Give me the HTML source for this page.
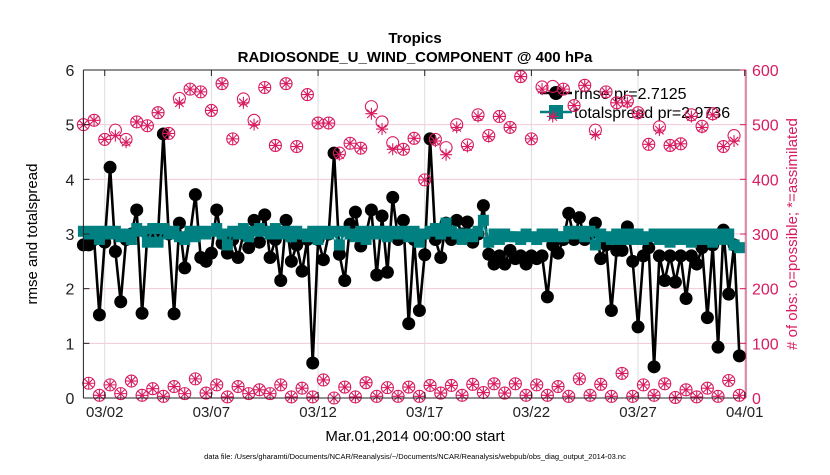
<!DOCTYPE html>
<html><head><meta charset="utf-8">
<style>
body{margin:0;background:#fff;font-family:"Liberation Sans",sans-serif}
svg text{font-family:"Liberation Sans",sans-serif}
</style></head>
<body>
<svg id="chart" width="830" height="470" xmlns="http://www.w3.org/2000/svg">
<rect width="830" height="470" fill="#fff"/>
<g id="grid"></g>
<g id="series"></g>
<g id="legend"></g>
<g id="obs"></g>
<g id="axes"></g>
<text x="415" y="43" text-anchor="middle" font-size="15" font-weight="bold">Tropics</text>
<text x="415" y="62" text-anchor="middle" font-size="15" font-weight="bold">RADIOSONDE_U_WIND_COMPONENT @ 400 hPa</text>
<text x="415" y="441" text-anchor="middle" font-size="15">Mar.01,2014 00:00:00 start</text>
<text x="415" y="459" text-anchor="middle" font-size="7.5">data file: /Users/gharamti/Documents/NCAR/Reanalysis/~/Documents/NCAR/Reanalysis/webpub/obs_diag_output_2014-03.nc</text>
<text transform="translate(37,234) rotate(-90)" text-anchor="middle" font-size="15">rmse and totalspread</text>
<text transform="translate(797,234) rotate(-90)" text-anchor="middle" font-size="15" fill="#d81b60"># of obs: o=possible; *=assimilated</text>
</svg>
<script>
const xTickDays=[1,6,11,16,21,26,31];
const xTickLabels=["03/02","03/07","03/12","03/17","03/22","03/27","04/01"];
const yTicks=[0,1,2,3,4,5,6];
const y2Ticks=[0,100,200,300,400,500,600];
const rmse=[2.8,2.8,2.9,1.52,2.85,4.22,2.68,1.76,2.9,3.0,3.44,1.55,3.0,2.9,3.0,4.83,3.0,1.54,3.2,2.38,3.0,3.72,2.57,2.5,2.65,3.44,2.83,2.65,2.9,2.57,3.0,2.75,3.25,2.85,3.35,2.57,2.9,2.15,3.25,2.5,2.8,2.32,2.9,0.64,2.9,2.53,3.0,4.48,2.63,2.15,3.18,3.4,2.78,3.0,3.44,2.25,3.33,2.3,3.67,2.9,3.25,1.36,2.9,1.6,2.62,4.74,2.9,2.57,3.2,2.9,3.25,3.0,3.22,2.85,3.0,3.52,2.63,2.45,2.6,2.45,2.7,2.55,2.6,2.45,2.6,2.55,2.6,1.85,2.8,2.65,2.9,3.38,2.9,3.3,2.9,3.0,3.2,2.55,2.8,1.6,2.7,2.7,3.13,2.5,1.3,2.6,2.75,0.57,2.6,2.15,2.6,2.12,2.6,1.82,2.6,2.45,2.75,1.47,2.8,0.93,3.07,1.9,2.8,0.77];
const totalspread=[3.05,3.0,3.05,2.9,3.05,3.0,3.05,2.95,3.0,2.9,3.1,3.05,2.85,3.1,2.85,3.1,3.0,3.05,2.95,2.9,3.05,2.95,3.05,3.0,3.05,3.1,3.0,2.8,3.05,3.0,3.1,2.95,3.05,3.1,3.05,3.0,3.1,3.0,3.05,2.95,3.05,3.0,2.95,3.05,2.9,3.05,3.0,3.05,2.8,3.05,3.0,2.95,3.05,2.9,3.05,3.0,3.05,2.95,3.05,3.0,3.05,2.95,3.05,2.85,3.0,3.05,3.1,3.0,3.2,3.05,3.0,2.9,3.0,2.95,3.05,3.25,2.85,3.0,2.9,3.0,2.95,2.95,2.9,3.0,2.95,2.9,3.0,2.95,3.0,2.95,2.95,3.05,3.0,3.05,2.95,3.05,2.8,3.0,2.95,2.9,3.0,2.9,3.0,2.9,3.0,2.9,2.95,3.0,2.9,3.0,2.85,3.0,2.9,3.0,2.85,3.0,2.9,3.0,2.85,3.0,2.9,3.0,2.8,2.75];
const obsPossible=[500,27,508,5,473,24,490,8,473,31,505,5,498,17,522,3,484,21,548,8,565,35,560,9,526,24,575,2,474,21,547,8,508,15,568,8,462,24,575,2,460,18,555,2,503,33,503,0,448,20,466,2,457,28,533,3,505,19,467,3,455,20,475,3,399,23,473,9,458,23,500,5,463,25,518,10,480,26,515,9,495,26,588,5,474,24,569,5,570,21,565,3,535,35,572,5,490,25,560,3,540,45,543,3,522,24,464,5,496,26,462,1,465,15,518,2,497,18,520,3,460,32,480,5];
const obsAssim=[500,27,508,5,473,24,480,8,468,31,505,5,498,17,522,3,484,21,540,8,565,35,560,9,526,24,575,2,474,21,540,8,500,15,568,8,462,24,575,2,460,18,555,2,503,33,503,0,445,20,466,2,457,28,520,3,492,19,455,3,455,20,475,3,399,23,470,9,445,23,495,5,460,25,515,10,478,26,515,9,495,26,588,5,474,24,565,5,515,21,565,3,535,35,572,5,482,25,560,3,540,45,540,3,520,24,464,5,490,26,462,1,465,15,515,2,495,18,518,3,460,32,470,5];

const X0=83.4,X1=746,Y0=70,Y1=398,DAYS=31.06;
const NS="http://www.w3.org/2000/svg";
function xs(d){return X0+(d/DAYS)*(X1-X0);}
function ys(v){return Y1-(v/6)*(Y1-Y0);}
function ys2(v){return Y1-(v/600)*(Y1-Y0);}
function tOf(i){return i*0.25;}
function mk(tag,attrs,parent){const e=document.createElementNS(NS,tag);for(const k in attrs)e.setAttribute(k,attrs[k]);parent.appendChild(e);return e;}
const G=document.getElementById('grid'),S=document.getElementById('series'),L=document.getElementById('legend'),O=document.getElementById('obs'),A=document.getElementById('axes');
const MAG="#d81b60",TEAL="#008080";
// grid
yTicks.forEach(v=>{if(v>0&&v<6){const l=mk('line',{x1:X0,x2:X1,y1:ys(v),y2:ys(v),stroke:'#f3c9d8','stroke-width':1},G);

}});
xTickDays.forEach(d=>{const l=mk('line',{x1:xs(d),x2:xs(d),y1:Y0,y2:Y1,stroke:'#dcdcdc','stroke-width':1},G);

});
// totalspread
let p='';totalspread.forEach((v,i)=>{p+=(i?'L':'M')+xs(tOf(i)).toFixed(1)+' '+ys(v).toFixed(1);});
// rmse line
let pr='';rmse.forEach((v,i)=>{pr+=(i?'L':'M')+xs(tOf(i)).toFixed(1)+' '+ys(v).toFixed(1);});
const rl=mk('path',{d:pr,fill:'none',stroke:'#000','stroke-width':2.6},S);


rmse.forEach((v,i)=>{const c=mk('circle',{cx:xs(tOf(i)),cy:ys(v),r:6.5,fill:'#000'},S);

});
const tl=mk('path',{d:p,fill:'none',stroke:TEAL,'stroke-width':2.6},S);


totalspread.forEach((v,i)=>{const r=mk('rect',{x:xs(tOf(i))-5.5,y:ys(v)-5.5,width:11,height:11,fill:TEAL},S);

});
// legend
mk('line',{x1:540,x2:572,y1:93,y2:93,stroke:'#000','stroke-width':2.6},L);
mk('circle',{cx:556,cy:93,r:7,fill:'#000'},L);
mk('text',{x:574,y:99,'font-size':16},L).textContent='rmse pr=2.7125';
mk('line',{x1:540,x2:572,y1:112,y2:112,stroke:TEAL,'stroke-width':2.6},L);
mk('rect',{x:549,y:105,width:14,height:14,fill:TEAL},L);
mk('text',{x:574,y:118,'font-size':16},L).textContent='totalspread pr=2.9736';
// obs
obsPossible.forEach((v,i)=>{const c=mk('circle',{cx:xs(tOf(i)),cy:ys2(v),r:6,fill:'none',stroke:MAG,'stroke-width':1.1},O);

});
obsAssim.forEach((v,i)=>{const x=xs(tOf(i)),y=ys2(v),r=6;let d='';
for(let k=0;k<4;k++){const a=k*Math.PI/4;d+=`M${x-r*Math.cos(a)} ${y-r*Math.sin(a)}L${x+r*Math.cos(a)} ${y+r*Math.sin(a)}`;}
const s=mk('path',{d:d,stroke:MAG,'stroke-width':1.1,fill:'none'},O);

});
// axes
mk('line',{x1:X0,x2:X1,y1:Y0,y2:Y0,stroke:'#222','stroke-width':1},A);
mk('line',{x1:X0,x2:X1,y1:Y1,y2:Y1,stroke:'#222','stroke-width':1},A);
mk('line',{x1:X0,x2:X0,y1:Y0,y2:Y1,stroke:'#222','stroke-width':1},A);
mk('line',{x1:X1,x2:X1,y1:Y0,y2:Y1,stroke:MAG,'stroke-width':1},A);
yTicks.forEach(v=>{mk('line',{x1:X0,x2:X0+6,y1:ys(v),y2:ys(v),stroke:'#222'},A);
const t=mk('text',{x:X0-9,y:ys(v)+6,'text-anchor':'end','font-size':16,fill:'#222'},A);t.textContent=v;

});
y2Ticks.forEach(v=>{mk('line',{x1:X1-6,x2:X1,y1:ys2(v),y2:ys2(v),stroke:MAG},A);
const t=mk('text',{x:X1+6,y:ys2(v)+6,'font-size':16,fill:MAG},A);t.textContent=v;

});
xTickDays.forEach((d,i)=>{mk('line',{x1:xs(d),x2:xs(d),y1:Y1,y2:Y1-6,stroke:'#222'},A);mk('line',{x1:xs(d),x2:xs(d),y1:Y0,y2:Y0+6,stroke:'#222'},A);
const t=mk('text',{x:xs(d),y:Y1+19,'text-anchor':'middle','font-size':15,fill:'#222'},A);t.textContent=xTickLabels[i];

});
</script>
</body></html>
